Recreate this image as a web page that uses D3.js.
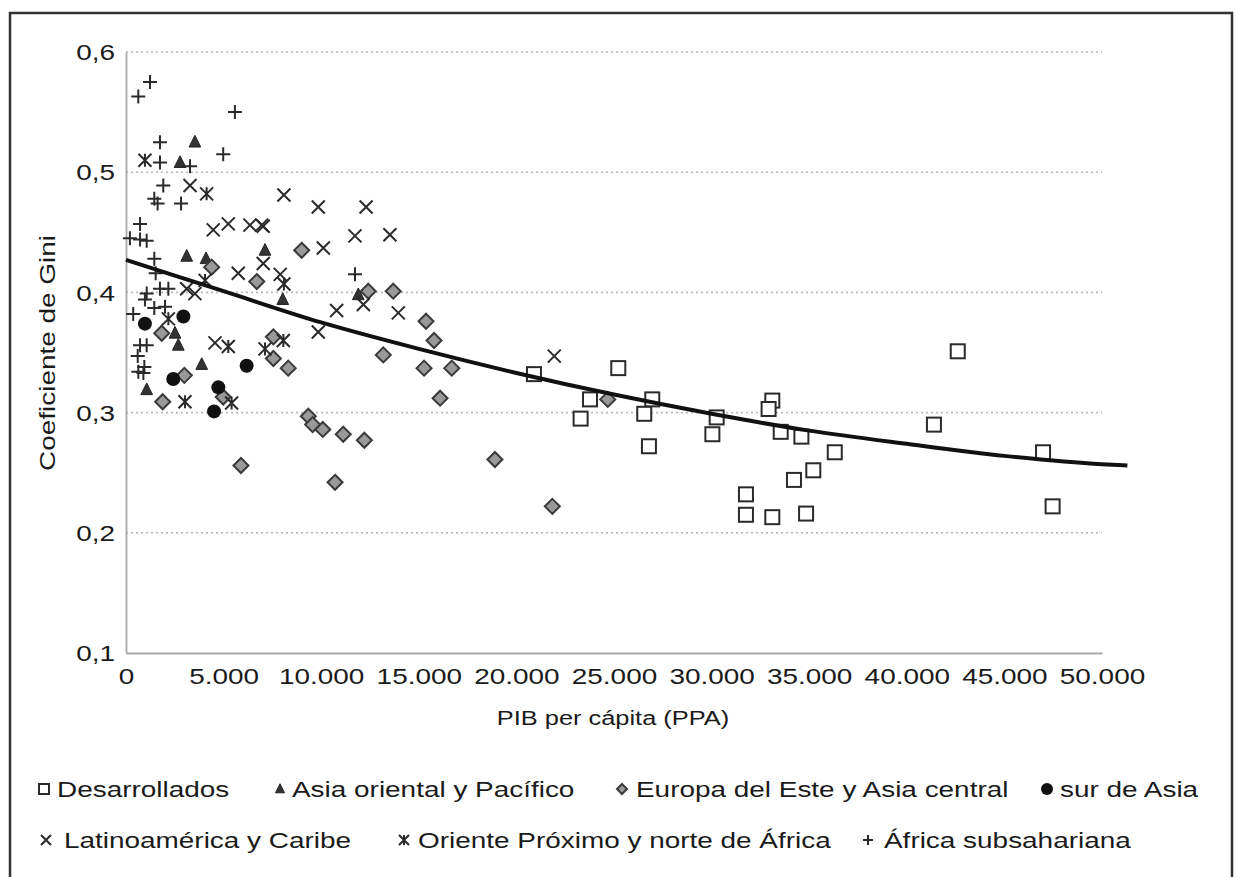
<!DOCTYPE html>
<html><head><meta charset="utf-8">
<script src="https://cdn.jsdelivr.net/npm/d3@7"></script>
<style>
html,body{margin:0;padding:0;background:#fff;}
text{font-family:"Liberation Sans",Arial,Helvetica,sans-serif;fill:#1a1a1a;}
</style></head>
<body><svg id="c" width="1236" height="877"></svg>
<script>
// ---------------- DATA (x = PIB per cápita PPA, y = Gini) ----------------
const desarrolladosX = [20900,25220,23770,23290,26960,26550,26790,30260,30040,33110,32920,33540,34600,36310,35210,34220,31760,31760,33110,34840,42610,41390,46980,47470];
const desarrolladosY = [0.332,0.337,0.311,0.295,0.311,0.299,0.272,0.296,0.282,0.310,0.303,0.284,0.280,0.267,0.252,0.244,0.232,0.215,0.213,0.216,0.351,0.290,0.267,0.222];

const asiaOrientalX = [3530,2770,3110,4100,7120,8030,11900,2510,2680,3880,1060];
const asiaOrientalY = [0.525,0.508,0.430,0.428,0.435,0.394,0.398,0.366,0.356,0.340,0.319];

const europaEsteX = [2990,1880,4980,5890,4390,6700,1830,7550,7550,8310,13180,9340,9560,10080,11130,12210,10710,9000,12410,13690,15370,15780,15270,16690,16090,18900,21840,24680];
const europaEsteY = [0.331,0.309,0.313,0.256,0.421,0.409,0.366,0.363,0.345,0.337,0.348,0.297,0.290,0.286,0.282,0.277,0.242,0.435,0.401,0.401,0.376,0.360,0.337,0.337,0.312,0.261,0.222,0.311];

const surAsiaX = [970,2940,2420,6180,4730,4510];
const surAsiaY = [0.374,0.380,0.328,0.339,0.321,0.301];

const latinoX = [3280,4470,5240,6350,6950,5750,3110,3530,4560,8090,9850,12300,7030,11730,13520,10110,10790,12160,13950,9850,21940,7900,7030];
const latinoY = [0.489,0.452,0.457,0.456,0.456,0.416,0.403,0.399,0.358,0.481,0.471,0.471,0.455,0.447,0.448,0.437,0.385,0.390,0.383,0.367,0.347,0.415,0.424];

const orienteX = [970,4130,4050,2170,5240,3020,5410,8090,8060,7120];
const orienteY = [0.510,0.482,0.410,0.378,0.355,0.309,0.308,0.407,0.360,0.353];

const africaX = [1230,630,5580,1740,4980,1740,3280,1910,1450,1620,2820,720,200,720,1060,1450,1520,1740,2170,1060,970,1450,2000,370,720,1060,600,940,630,890,11730];
const africaY = [0.575,0.563,0.550,0.525,0.515,0.508,0.505,0.489,0.478,0.474,0.474,0.457,0.445,0.444,0.443,0.428,0.416,0.403,0.403,0.399,0.394,0.387,0.388,0.382,0.356,0.356,0.347,0.338,0.334,0.333,0.415];

// trend line
const trendX = [0,5000,10000,15000,20000,25000,30000,35000,40000,45000,50000,51300];
const trendY = [0.427,0.401,0.375,0.353,0.333,0.315,0.299,0.285,0.274,0.264,0.257,0.256];

const yTicks = [0.1,0.2,0.3,0.4,0.5,0.6];
const xTicks = [0,5000,10000,15000,20000,25000,30000,35000,40000,45000,50000];

const seriesNames = ["Desarrollados","Asia oriental y Pacífico","Europa del Este y Asia central","sur de Asia","Latinoamérica y Caribe","Oriente Próximo y norte de África","África subsahariana"];
const xTitle = "PIB per cápita (PPA)";
const yTitle = "Coeficiente de Gini";

// ---------------- DRAWING ----------------
const SX = 1.27; // horizontal stretch of the glyphs in the reference
const svg = d3.select("#c");
svg.append("rect").attr("x",10).attr("y",13).attr("width",1222).attr("height",900)
  .attr("fill","#fff").attr("stroke","#333").attr("stroke-width",2.5);

const x = d3.scaleLinear().domain([0,50000]).range([126,1102]);
const y = d3.scaleLinear().domain([0.1,0.6]).range([653,52]);

// grid
svg.append("g").selectAll("line").data(yTicks.filter(d=>d>0.1)).join("line")
  .attr("x1",x(0)).attr("x2",x(50000)).attr("y1",d=>y(d)).attr("y2",d=>y(d))
  .attr("stroke","#b8b8b8").attr("stroke-width",1.6).attr("stroke-dasharray","2,3");

const fmtX = d => d===0 ? "0" : d3.format(",")(d).replace(/,/g,".");
const fmtY = d => d3.format(".1f")(d).replace(".",",");

const gx = svg.append("g").attr("transform",`translate(0,${y(0.1)})`)
  .call(d3.axisBottom(x).tickValues(xTicks).tickFormat(fmtX).tickSize(0).tickSizeOuter(0));
gx.select(".domain").attr("stroke","#a8a8a8").attr("stroke-width",1.8);
gx.selectAll("text").attr("y",0).attr("dy","0.35em").attr("font-size",22)
  .attr("transform",`translate(0,23) scale(${SX},1)`).style("fill","#1a1a1a");

const gy = svg.append("g").attr("transform",`translate(${x(0)},0)`)
  .call(d3.axisLeft(y).tickValues(yTicks).tickFormat(fmtY).tickSize(0).tickSizeOuter(0));
gy.select(".domain").attr("stroke","#a8a8a8").attr("stroke-width",1.8);
gy.selectAll("text").attr("x",0).attr("dy","0.35em").attr("font-size",22)
  .attr("transform",`translate(-11,0) scale(${SX},1)`).style("fill","#1a1a1a");

svg.append("text").attr("font-size",20).attr("text-anchor","middle")
  .attr("transform",`translate(613,718) scale(${SX},1)`).attr("dy","0.35em").text(xTitle);
svg.append("text").attr("font-size",22).attr("text-anchor","middle")
  .attr("transform",`translate(47,353) rotate(-90) scale(${SX},1)`).attr("dy","0.35em").text(yTitle);

// marker painters
const ink = "#2a2a2a";
function drawMarker(g, kind, s){
  const h = s/2;
  if(kind==="square"){
    g.append("rect").attr("x",-h).attr("y",-h).attr("width",s).attr("height",s)
      .attr("fill","#fff").attr("stroke",ink).attr("stroke-width",2);
  } else if(kind==="triangle"){
    g.append("path").attr("d",`M0,${-h*1.05}L${h*0.9},${h*0.75}L${-h*0.9},${h*0.75}Z`)
      .attr("fill","#333").attr("stroke","#222").attr("stroke-width",1);
  } else if(kind==="diamond"){
    g.append("path").attr("d",`M0,${-h}L${h},0L0,${h}L${-h},0Z`)
      .attr("fill","#999").attr("stroke","#3a3a3a").attr("stroke-width",2);
  } else if(kind==="circle"){
    g.append("circle").attr("r",h).attr("fill","#111");
  } else if(kind==="x"){
    g.append("path").attr("d",`M${-h},${-h}L${h},${h}M${-h},${h}L${h},${-h}`)
      .attr("stroke",ink).attr("stroke-width",2).attr("fill","none");
  } else if(kind==="star"){
    g.append("path").attr("d",`M${-h},${-h}L${h},${h}M${-h},${h}L${h},${-h}M0,${-h}L0,${h}`)
      .attr("stroke",ink).attr("stroke-width",2).attr("fill","none");
  } else if(kind==="plus"){
    g.append("path").attr("d",`M${-h},0L${h},0M0,${-h}L0,${h}`)
      .attr("stroke",ink).attr("stroke-width",2).attr("fill","none");
  }
}

const series = [
  {xs:desarrolladosX, ys:desarrolladosY, kind:"square",   size:14, name:seriesNames[0]},
  {xs:asiaOrientalX,  ys:asiaOrientalY,  kind:"triangle", size:13, name:seriesNames[1]},
  {xs:europaEsteX,    ys:europaEsteY,    kind:"diamond",  size:15, name:seriesNames[2]},
  {xs:surAsiaX,       ys:surAsiaY,       kind:"circle",   size:14, name:seriesNames[3]},
  {xs:latinoX,        ys:latinoY,        kind:"x",        size:13, name:seriesNames[4]},
  {xs:orienteX,       ys:orienteY,       kind:"star",     size:13, name:seriesNames[5]},
  {xs:africaX,        ys:africaY,        kind:"plus",     size:14, name:seriesNames[6]}
];

series.forEach(s=>{
  const pts = s.xs.map((v,i)=>({x:v,y:s.ys[i]}));
  svg.append("g").selectAll("g").data(pts).join("g")
    .attr("transform",d=>`translate(${x(d.x)},${y(d.y)})`)
    .each(function(){ drawMarker(d3.select(this), s.kind, s.size); });
});

// trend line
const trend = trendX.map((v,i)=>({x:v,y:trendY[i]}));
svg.append("path").datum(trend)
  .attr("d",d3.line().x(d=>x(d.x)).y(d=>y(d.y)).curve(d3.curveMonotoneX))
  .attr("fill","none").attr("stroke","#111").attr("stroke-width",4);

// legend
const legendLayout = [
  {mx:44, tx:57, yy:789},{mx:280, tx:292, yy:789},{mx:622, tx:636, yy:789},{mx:1047, tx:1060, yy:789},
  {mx:46, tx:64, yy:840},{mx:404, tx:418, yy:840},{mx:868, tx:884, yy:840}
];
series.forEach((s,i)=>{
  const L = legendLayout[i];
  const g = svg.append("g").attr("transform",`translate(${L.mx},${L.yy})`);
  drawMarker(g, s.kind, s.kind==="circle"?12:10);
  svg.append("text").attr("font-size",22).attr("dy","0.35em")
    .attr("transform",`translate(${L.tx},${L.yy}) scale(${SX},1)`).text(s.name);
});
</script></body></html>
